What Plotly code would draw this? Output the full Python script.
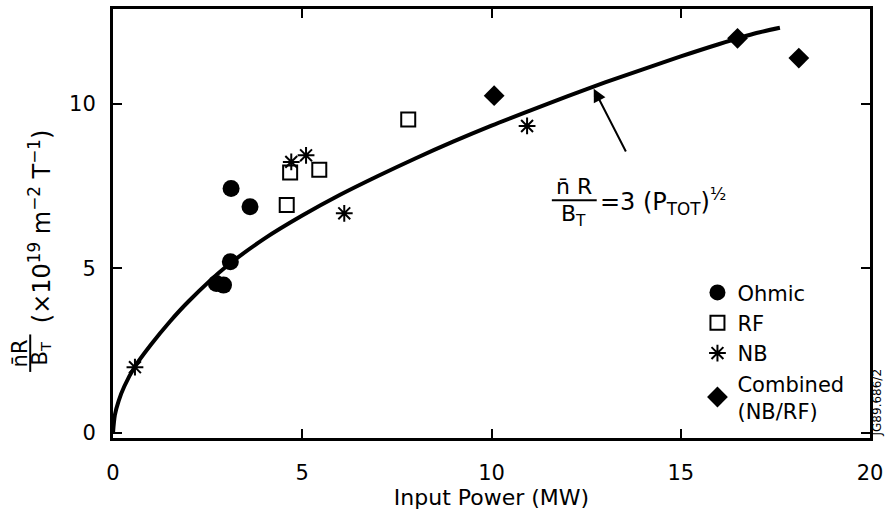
import plotly.graph_objects as go

# ---------------- data ----------------
ohmic_x = [3.12, 3.62, 3.10, 2.73, 2.92]
ohmic_y = [7.42, 6.87, 5.20, 4.54, 4.49]

rf_x = [4.68, 5.45, 4.59, 7.80]
rf_y = [7.91, 7.99, 6.92, 9.52]

nb_x = [4.71, 5.10, 6.11, 0.58, 10.94]
nb_y = [8.23, 8.43, 6.67, 2.00, 9.32]

comb_x = [10.07, 16.50, 18.12]
comb_y = [10.24, 11.98, 11.38]

# fitted curve as drawn
fit_x = [0, 0.05, 0.15, 0.3, 0.58, 1.0, 1.5, 2.0, 3.0, 4.0, 5.0, 6.0, 7.0, 8.0, 9.0, 10.0,
         11.0, 12.0, 13.0, 14.0, 15.0, 16.0, 17.0, 17.62]
fit_y = [0, 0.55, 0.98, 1.42, 2.02, 2.68, 3.38, 4.0, 5.06, 5.9, 6.6, 7.23, 7.8, 8.34, 8.85, 9.33,
         9.78, 10.22, 10.64, 11.04, 11.43, 11.8, 12.14, 12.3]

x_ticks = [0, 5, 10, 15, 20]
y_ticks = [0, 5, 10]

# ---------------- geometry helpers ----------------
W, H = 889, 511
L, R, T, B = 113, 17, 6, 70
PW, PH = W - L - R, H - T - B
YMIN, YMAX = -0.15, 12.87

def px(x):
    return (x - L) / PW

def py(y):
    return (H - B - y) / PH

FONT = "DejaVu Sans"

fig = go.Figure()

fig.add_trace(go.Scatter(x=fit_x, y=fit_y, mode="lines",
                         line=dict(color="black", width=4, shape="spline", smoothing=0.8),
                         showlegend=False, hoverinfo="skip"))
fig.add_trace(go.Scatter(x=ohmic_x, y=ohmic_y, mode="markers", name="Ohmic",
                         marker=dict(symbol="circle", size=17, color="black")))
fig.add_trace(go.Scatter(x=rf_x, y=rf_y, mode="markers", name="RF",
                         marker=dict(symbol="square-open", size=14, color="black", line=dict(width=2))))
fig.add_trace(go.Scatter(x=nb_x, y=nb_y, mode="markers", name="NB",
                         marker=dict(symbol="asterisk-open", size=14, color="black",
                                     line=dict(width=2, color="black"))))
fig.add_trace(go.Scatter(x=comb_x, y=comb_y, mode="markers", name="Combined<br>(NB/RF)",
                         marker=dict(symbol="diamond", size=16, color="black")))

axis_common = dict(showline=True, linecolor="black", linewidth=3, mirror="allticks", ticks="inside",
                   ticklen=9, tickwidth=2, tickcolor="black", showgrid=False, zeroline=False,
                   tickfont=dict(family=FONT, size=21, color="black"))

fig.update_xaxes(range=[0, 20], tickvals=x_ticks, ticktext=[str(v) for v in x_ticks],
                 ticklabelstandoff=14,
                 title=dict(text="Input Power (MW)", font=dict(family=FONT, size=22, color="black"), standoff=4),
                 **axis_common)
fig.update_yaxes(range=[YMIN, YMAX], tickvals=y_ticks, ticktext=[str(v) for v in y_ticks],
                 ticklabelstandoff=10, **axis_common)

def note(xp, yp, text, size=20, angle=0, xanchor="center"):
    return dict(x=px(xp), y=py(yp), xref="paper", yref="paper", text=text, textangle=angle,
                showarrow=False, xanchor=xanchor, yanchor="middle",
                font=dict(family=FONT, size=size, color="black"))

annotations = [
    # y-axis title as a rotated fraction
    note(20, 355, "n\u0304R", 21, -90),
    note(41, 355, "B<sub>T</sub>", 21, -90),
    note(40, 226, "(\u00d710<sup>19</sup> m<sup>\u22122</sup> T<sup>\u22121</sup>)", 24, -90),
    # fitted-curve formula
    note(575, 186, "n\u0304 R", 22),
    note(575, 215, "B<sub>T</sub>", 22),
    note(599, 201, "=3 (P<sub>TOT</sub>)<sup>\u00bd</sup>", 24, 0, "left"),
    # arrow to curve
    dict(x=12.7, y=10.45, xref="x", yref="y",
         ax=(628 - L) / PW * 20, ay=YMIN + (H - B - 152) / PH * (YMAX - YMIN), axref="x", ayref="y",
         text="", showarrow=True, arrowhead=2, arrowsize=1.3, arrowwidth=2, arrowcolor="black"),
    # figure id
    note(880, 405, "JG89.686/2", 12, -90),
]

shapes = [
    dict(type="line", xref="paper", yref="paper", x0=px(30), x1=px(30), y0=py(336), y1=py(374),
         line=dict(color="black", width=2)),
    dict(type="line", xref="paper", yref="paper", x0=px(553), x1=px(598), y0=py(200), y1=py(200),
         line=dict(color="black", width=2)),
]

fig.update_layout(
    width=W, height=H,
    margin=dict(l=L, r=R, t=T, b=B),
    paper_bgcolor="white", plot_bgcolor="white",
    font=dict(family=FONT, color="black"),
    annotations=annotations,
    shapes=shapes,
    legend=dict(x=px(699), y=py(273), xanchor="left", yanchor="top", bgcolor="rgba(0,0,0,0)",
                font=dict(family=FONT, size=21, color="black"), itemwidth=30, tracegroupgap=0),
)

fig.write_html("out.html")
